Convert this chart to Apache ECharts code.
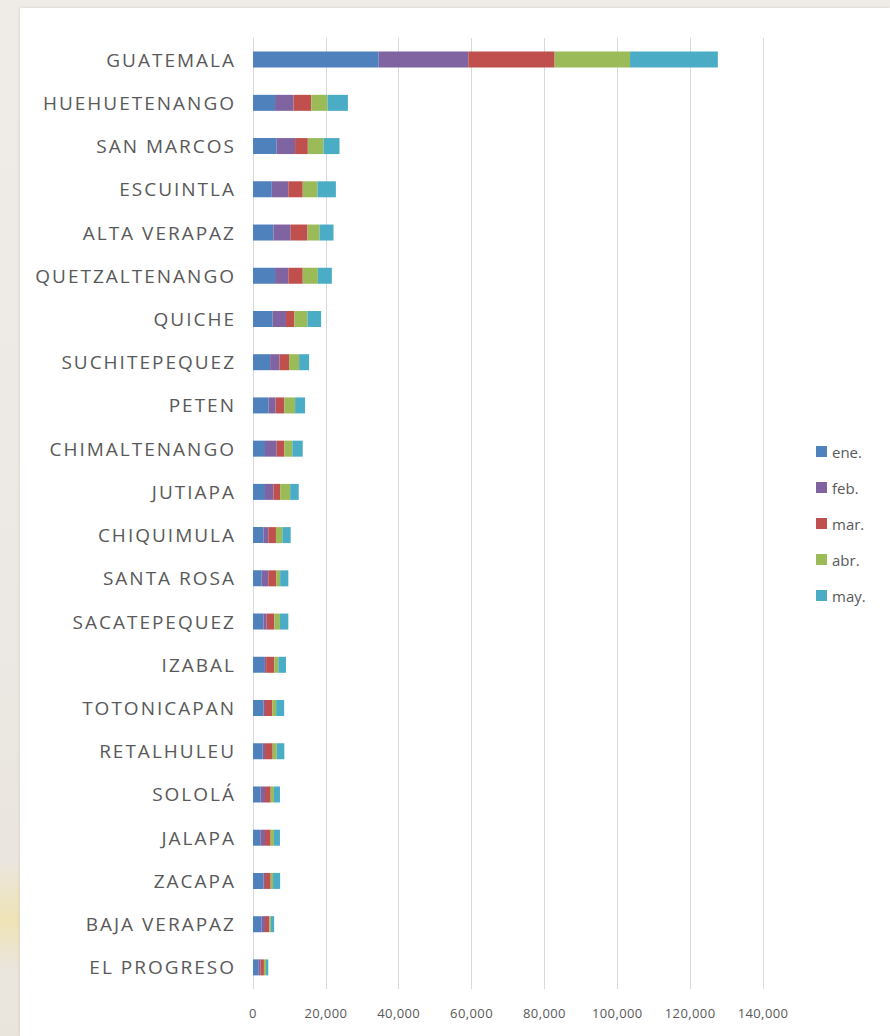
<!DOCTYPE html>
<html lang="es">
<head>
    <meta charset="UTF-8">
    <title>Casos por departamento</title>
    <style>
        html, body { margin: 0; padding: 0; }
        body {
            width: 890px; height: 1036px; overflow: hidden; position: relative;
            background: linear-gradient(180deg, #efebe7 0%, #ece8e3 60%, #e9e4dc 100%);
        }
        #streak {
            position: absolute; left: 0; top: 860px; width: 30px; height: 110px;
            background: linear-gradient(180deg, rgba(238,232,220,0) 0%, #efe3b6 55%, rgba(238,232,220,0) 100%);
        }
        #panel {
            position: absolute; left: 20px; top: 8px; width: 870px; height: 1028px;
            background: #ffffff; box-shadow: 0 0 3px rgba(0,0,0,0.12);
        }
        #main { position: absolute; left: 0; top: 0; width: 890px; height: 1036px; }
        /* etiquetas de departamento un poco espaciadas, como en el original */
        #main text[style*="19px"], #main text[font-size="19"] { letter-spacing: 2px; }
        #main text[style*="13px"], #main text[font-size="13"] { letter-spacing: 0.4px; }
    </style>
</head>
<body>
<div id="streak"></div>
<div id="panel"></div>
<div id="main"></div>
<script src="https://cdn.jsdelivr.net/npm/echarts@6/dist/echarts.min.js"></script>
<script>
    // departamentos, de arriba hacia abajo
    var categories = ['GUATEMALA', 'HUEHUETENANGO', 'SAN MARCOS', 'ESCUINTLA', 'ALTA VERAPAZ',
        'QUETZALTENANGO', 'QUICHE', 'SUCHITEPEQUEZ', 'PETEN', 'CHIMALTENANGO', 'JUTIAPA',
        'CHIQUIMULA', 'SANTA ROSA', 'SACATEPEQUEZ', 'IZABAL', 'TOTONICAPAN', 'RETALHULEU',
        'SOLOLÁ', 'JALAPA', 'ZACAPA', 'BAJA VERAPAZ', 'EL PROGRESO'];

    var months = ['ene.', 'feb.', 'mar.', 'abr.', 'may.'];

    var ene = [34500, 6050, 6500, 5150, 5600, 6050, 5400, 4700, 4300, 3300, 3300,
        2850, 2400, 2850, 3050, 2850, 2650, 2100, 2000, 2850, 2400, 1450];
    var feb = [24600, 5050, 5050, 4550, 4750, 3650, 3650, 2550, 1900, 3200, 2300,
        1350, 1800, 900, 550, 450, 650, 1200, 1300, 450, 900, 650];
    var mar = [23700, 4900, 3500, 3950, 4600, 3950, 2300, 2650, 2400, 2100, 1850,
        2100, 2150, 2100, 2250, 2000, 2100, 1550, 1550, 1550, 1200, 900];
    var abr = [20700, 4450, 4300, 4050, 3300, 4150, 3600, 2750, 2950, 2200, 2750,
        1750, 1100, 1550, 1100, 1050, 1100, 900, 900, 650, 400, 550];
    var may = [24100, 5600, 4400, 5050, 3850, 3850, 3750, 2750, 2750, 2850, 2350,
        2300, 2250, 2300, 2100, 2200, 2100, 1650, 1650, 1950, 900, 650];

    var xTicks = [0, 20000, 40000, 60000, 80000, 100000, 120000, 140000];

    var colors = ['#4F81BD', '#8064A2', '#C0504D', '#9BBB59', '#4BACC6'];
    var values = [ene, feb, mar, abr, may];

    var myChart = echarts.init(document.getElementById('main'), null, { renderer: 'svg' });

    var series = [];
    for (var i = 0; i < months.length; i++) {
        series.push({
            name: months[i],
            type: 'bar',
            stack: 'total',
            barWidth: 16,
            data: values[i],
            itemStyle: { color: colors[i] }
        });
    }

    var option = {
        backgroundColor: 'transparent',
        animation: false,
        color: colors,
        grid: { left: 253, right: 127, top: 38, bottom: 47 },
        legend: {
            orient: 'vertical',
            left: 811,
            top: 439,
            icon: 'rect',
            itemWidth: 11,
            itemHeight: 11,
            itemGap: 21,
            textStyle: { color: '#595959', fontSize: 15, fontFamily: 'Open Sans' },
            data: months
        },
        xAxis: {
            type: 'value',
            min: xTicks[0],
            max: xTicks[xTicks.length - 1],
            interval: xTicks[1] - xTicks[0],
            axisLine: { show: false },
            axisTick: { show: false },
            splitLine: { lineStyle: { color: '#d9d9d9', width: 1 } },
            axisLabel: {
                color: '#595959',
                fontSize: 13,
                fontFamily: 'Open Sans',
                margin: 17,
                formatter: function (v) { return v.toLocaleString('en-US'); }
            }
        },
        yAxis: {
            type: 'category',
            inverse: true,
            data: categories,
            axisLine: { show: false },
            axisTick: { show: false },
            axisLabel: {
                color: '#595959',
                fontSize: 19,
                fontFamily: 'Open Sans',
                margin: 17
            }
        },
        series: series
    };

    myChart.setOption(option);
</script>
</body>
</html>
